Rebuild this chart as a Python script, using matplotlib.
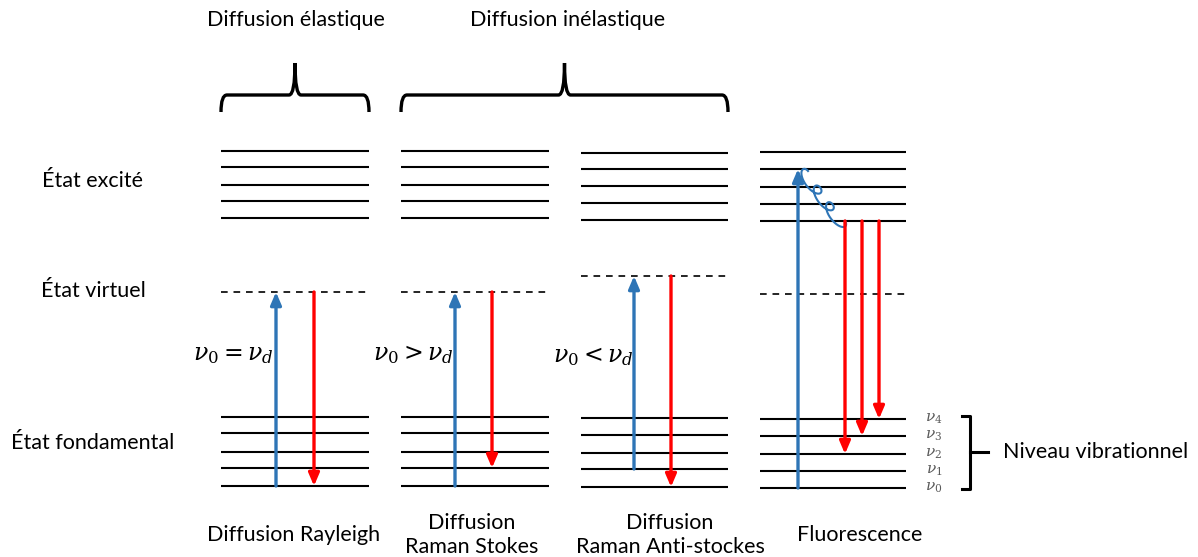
import numpy as np
import matplotlib
matplotlib.use("Agg")
import matplotlib.pyplot as plt
from matplotlib.path import Path
from matplotlib.patches import PathPatch

# ---- data (pixel coordinates of the diagram) ----
columns = ["Rayleigh", "Stokes", "AntiStokes", "Fluorescence"]
col_x0 = [221, 401, 581, 760]
col_x1 = [369, 549, 728, 906]
excited_y = [[151, 167, 185, 201, 218],
             [151, 167, 185, 201, 218],
             [153, 169, 186, 203, 220],
             [152, 169, 187, 204, 221]]
ground_y = [[417, 433, 452, 468, 486],
            [417, 433, 452, 468, 486],
            [418, 435, 453, 469, 487],
            [419, 436, 454, 471, 488]]
virtual_y = [292, 292, 276, 294]

# arrows: (x, y_start, y_end)
blue_arrows = [(276, 486, 292), (455, 486, 292), (634, 469, 276), (798, 488, 169)]
red_arrows = [(314, 292, 486), (492, 292, 468), (671, 276, 487),
              (845, 221, 454), (862, 221, 436), (879, 221, 419)]

bottom_labels = ["Diffusion Rayleigh", "Diffusion\nRaman Stokes",
                 "Diffusion\nRaman Anti-stockes", "Fluorescence"]
bottom_x = [294, 472, 670, 860]
state_labels = ["État excité", "État virtuel", "État fondamental"]
state_y = [181, 291, 443]
relation_labels = [r"$\nu_0 = \nu_d$", r"$\nu_0 > \nu_d$", r"$\nu_0 < \nu_d$"]
relation_x = [233, 413, 593]
relation_y = [355, 355, 357]
vib_labels = [r"$\nu_4$", r"$\nu_3$", r"$\nu_2$", r"$\nu_1$", r"$\nu_0$"]
top_labels = ["Diffusion élastique", "Diffusion inélastique"]
top_x = [296, 568]
brace_spans = [(221, 369), (401, 728)]

plt.rcParams['font.family'] = ['Lato', 'DejaVu Sans']
plt.rcParams['mathtext.fontset'] = 'dejavuserif'

fig = plt.figure(figsize=(11.98, 5.57), dpi=100)
ax = fig.add_axes([0, 0, 1, 1])
ax.set_xlim(0, 1198)
ax.set_ylim(557, 0)
ax.axis('off')

BLUE = "#2E75B6"
RED = "#FF0000"
FS = 15.5

for i in range(4):
    for y in excited_y[i] + ground_y[i]:
        ax.plot([col_x0[i], col_x1[i]], [y, y], color='black', lw=1.5, solid_capstyle='butt')
    ax.plot([col_x0[i], col_x1[i]], [virtual_y[i]] * 2, color='black', lw=1.2,
            dashes=(4, 3.5))

for x, y0, y1 in blue_arrows:
    ax.annotate("", xy=(x, y1), xytext=(x, y0),
                arrowprops=dict(arrowstyle="-|>,head_length=0.75,head_width=0.32",
                                color=BLUE, lw=2.4, shrinkA=0, shrinkB=0))
for x, y0, y1 in red_arrows:
    ax.annotate("", xy=(x, y1), xytext=(x, y0),
                arrowprops=dict(arrowstyle="-|>,head_length=0.75,head_width=0.32",
                                color=RED, lw=2.4, shrinkA=0, shrinkB=0))

# squiggle (non-radiative relaxation): prolate trochoid with loops
t = np.linspace(0, 1, 800)
p0 = np.array([808.0, 171.0]); p1 = np.array([845.0, 221.0])
vec = p1 - p0
L = np.hypot(*vec)
d = vec / L
nrm = np.array([-d[1], d[0]])
n = 3; r = 9.0
theta = 2 * np.pi * n * t
along = L * t - r * np.sin(theta)
perp = r * (1 - np.cos(theta)) * 0.55
sx = p0[0] + d[0] * along + nrm[0] * perp
sy = p0[1] + d[1] * along + nrm[1] * perp
ax.plot(sx, sy, color=BLUE, lw=1.5)

# braces
def brace(xa, xb, ytop=63, ymid=95, ybot=112):
    xm = (xa + xb) / 2
    verts = [(xa, ybot), (xa, ymid), (xa + 6, ymid), (xm - 6, ymid), (xm, ymid),
             (xm, ytop), (xm, ytop), (xm, ymid), (xm + 6, ymid),
             (xb - 6, ymid), (xb, ymid), (xb, ybot)]
    codes = [Path.MOVETO, Path.CURVE3, Path.CURVE3, Path.LINETO, Path.CURVE3, Path.CURVE3,
             Path.MOVETO, Path.CURVE3, Path.CURVE3, Path.LINETO, Path.CURVE3, Path.CURVE3]
    ax.add_patch(PathPatch(Path(verts, codes), fill=False, lw=2.4, color='black'))

for (xa, xb) in brace_spans:
    brace(xa, xb)

for lab, x in zip(top_labels, top_x):
    ax.text(x, 20, lab, ha='center', va='center', fontsize=FS)

for lab, y in zip(state_labels, state_y):
    ax.text(93, y, lab, ha='center', va='center', fontsize=FS)

for lab, x, y in zip(relation_labels, relation_x, relation_y):
    ax.text(x, y, lab, ha='center', va='center', fontsize=17)

for lab, x in zip(bottom_labels, bottom_x):
    ax.text(x, 535, lab, ha='center', va='center', fontsize=FS, linespacing=1.2)

for lab, y in zip(vib_labels, ground_y[3]):
    ax.text(934, y, lab, ha='center', va='center', fontsize=11, color='#595959')

# right bracket for vibrational levels
ax.plot([962, 970, 970, 962], [416, 416, 489, 489], color='black', lw=2.2,
        solid_joinstyle='round')
ax.plot([970, 988], [452, 452], color='black', lw=2.2)
ax.text(1003, 452, "Niveau vibrationnel", ha='left', va='center', fontsize=FS)

fig.savefig("out.png", dpi=100)
